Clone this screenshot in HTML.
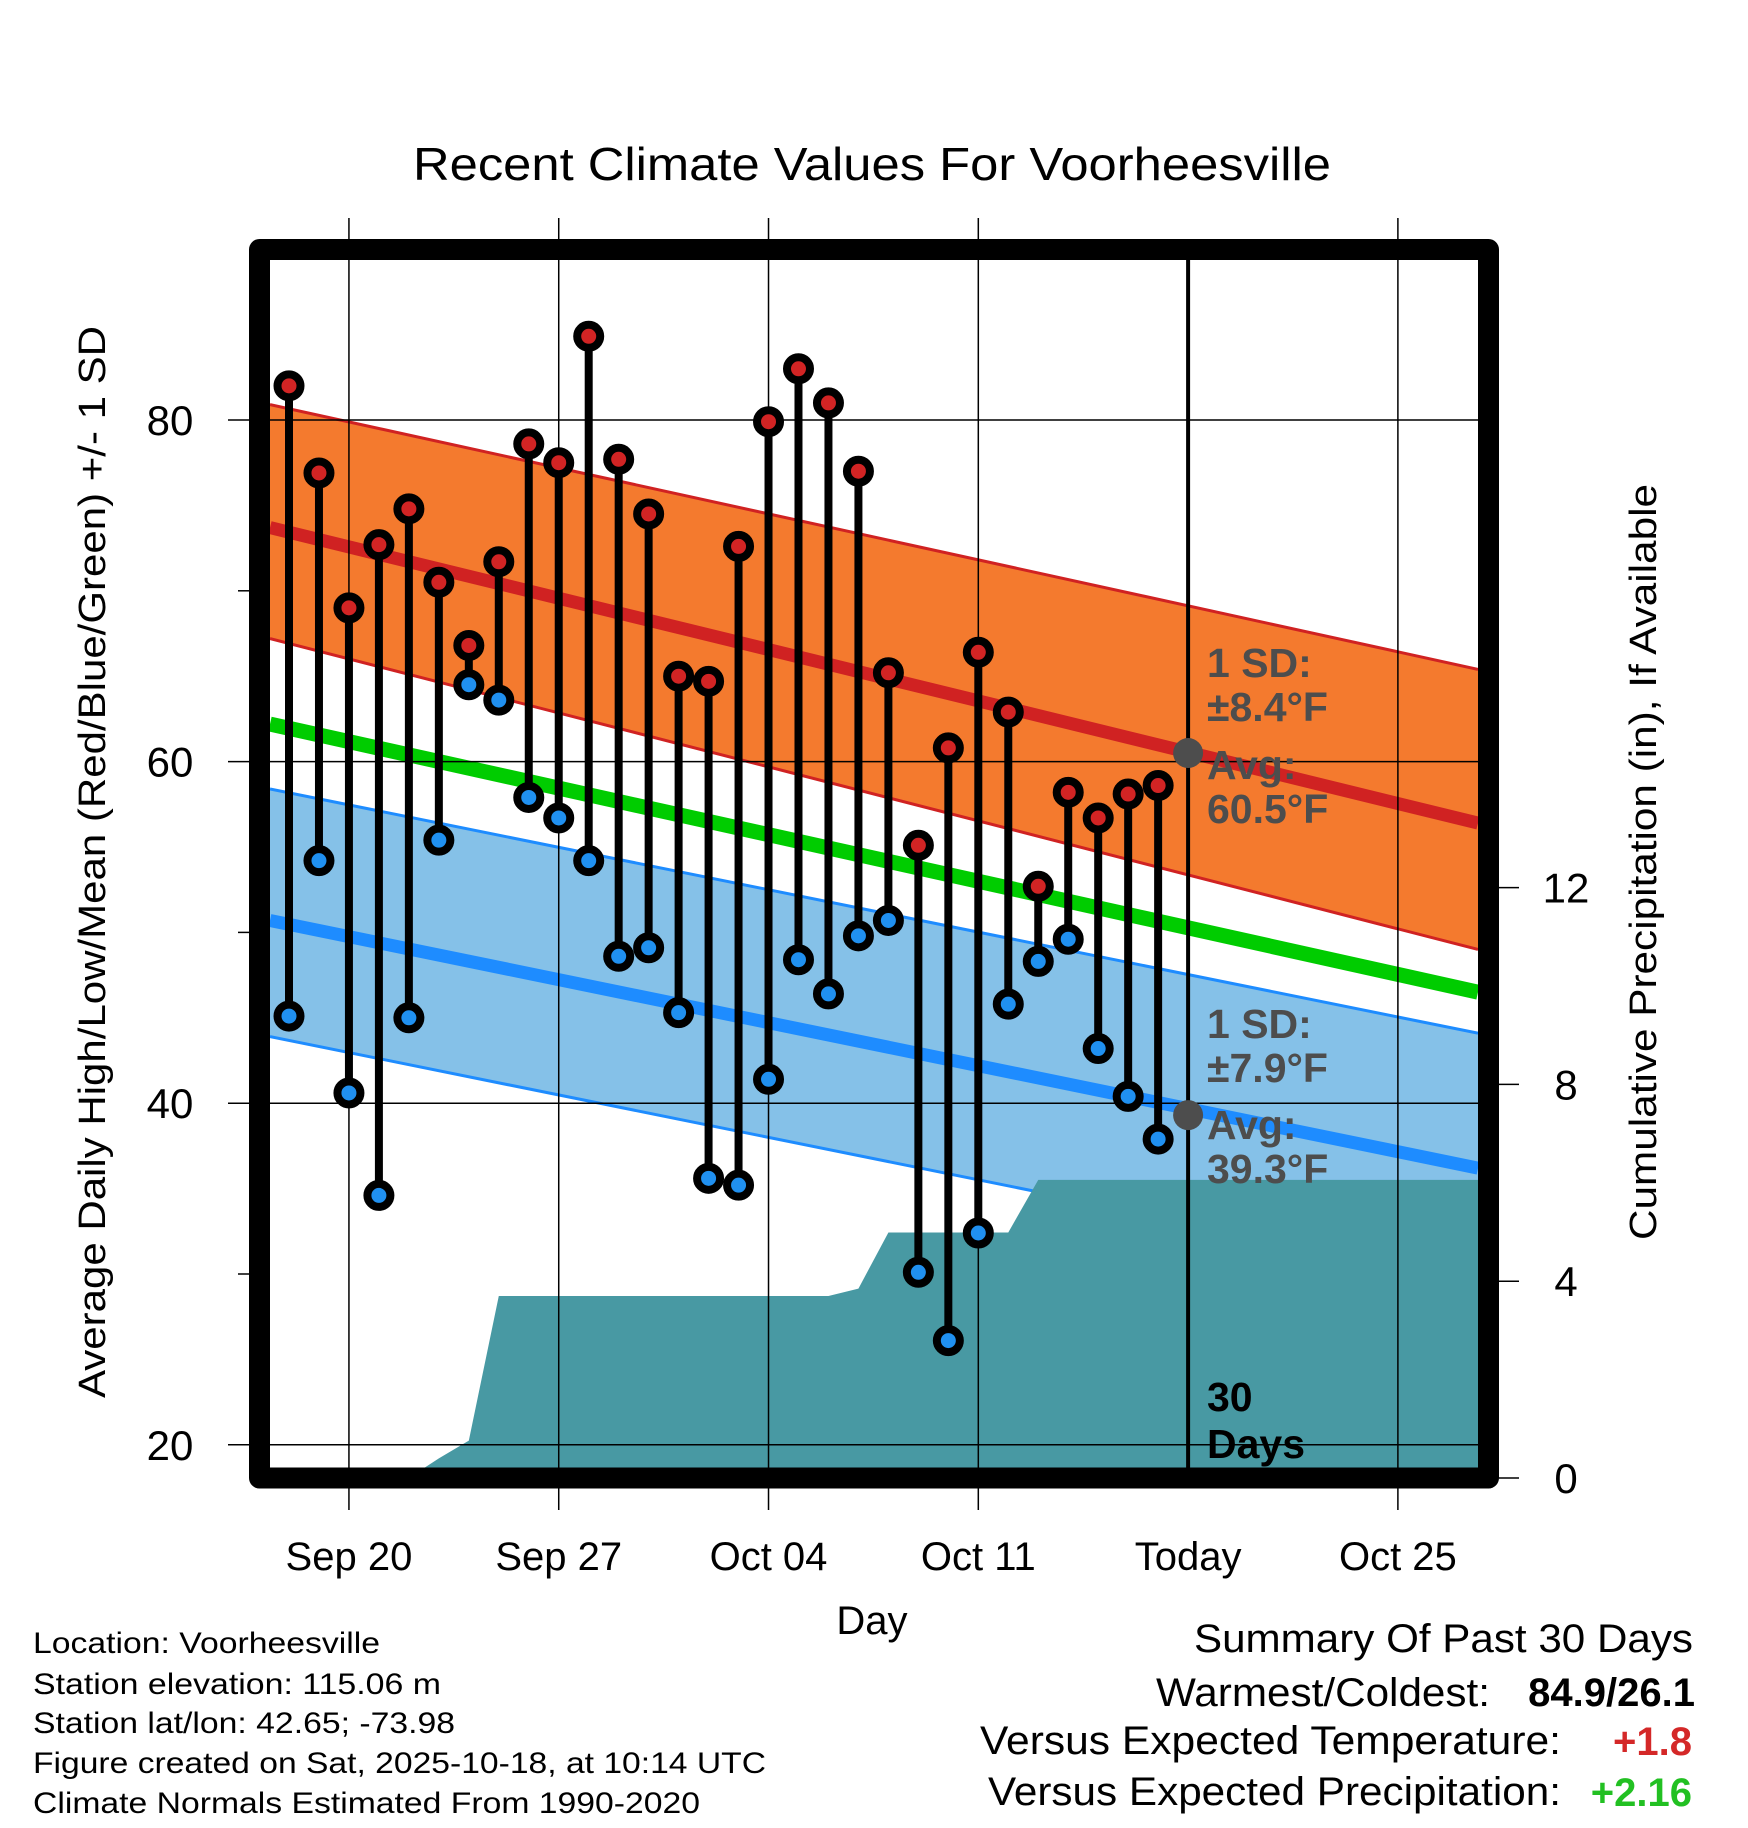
<!DOCTYPE html>
<html><head><meta charset="utf-8"><style>html,body{margin:0;padding:0;background:#fff}svg{display:block}</style></head>
<body>
<svg id="chart" xmlns="http://www.w3.org/2000/svg" width="1748" height="1828" viewBox="0 0 1748 1828" font-family="'Liberation Sans', sans-serif">
<rect width="1748" height="1828" fill="#fff"/>
<g id="plot"></g>
<text x="872" y="180" font-size="46" text-anchor="middle" textLength="918" lengthAdjust="spacingAndGlyphs">Recent Climate Values For Voorheesville</text>
<text transform="translate(105,862) rotate(-90)" font-size="38" text-anchor="middle" textLength="1072" lengthAdjust="spacingAndGlyphs">Average Daily High/Low/Mean (Red/Blue/Green) +/- 1 SD</text>
<text transform="translate(1656,862) rotate(-90)" font-size="38" text-anchor="middle" textLength="756" lengthAdjust="spacingAndGlyphs">Cumulative Precipitation (in), If Available</text>
<text x="872" y="1634" font-size="40" text-anchor="middle">Day</text>
<g font-size="30">
<text x="33" y="1653" textLength="347" lengthAdjust="spacingAndGlyphs">Location: Voorheesville</text>
<text x="33" y="1694" textLength="408" lengthAdjust="spacingAndGlyphs">Station elevation: 115.06 m</text>
<text x="33" y="1733" textLength="422" lengthAdjust="spacingAndGlyphs">Station lat/lon: 42.65; -73.98</text>
<text x="33" y="1773" textLength="733" lengthAdjust="spacingAndGlyphs">Figure created on Sat, 2025-10-18, at 10:14 UTC</text>
<text x="33" y="1813" textLength="667" lengthAdjust="spacingAndGlyphs">Climate Normals Estimated From 1990-2020</text>
</g>
<g font-size="40">
<text x="1693" y="1652" text-anchor="end" textLength="499" lengthAdjust="spacingAndGlyphs">Summary Of Past 30 Days</text>
<text x="1490" y="1706" text-anchor="end" textLength="334" lengthAdjust="spacingAndGlyphs">Warmest/Coldest:</text>
<text x="1695" y="1706" text-anchor="end" font-weight="bold">84.9/26.1</text>
<text x="1561" y="1754" text-anchor="end" textLength="581" lengthAdjust="spacingAndGlyphs">Versus Expected Temperature:</text>
<text x="1692" y="1755" text-anchor="end" font-weight="bold" fill="#d42828">+1.8</text>
<text x="1561" y="1805" text-anchor="end" textLength="573" lengthAdjust="spacingAndGlyphs">Versus Expected Precipitation:</text>
<text x="1692" y="1806" text-anchor="end" font-weight="bold" fill="#22c022">+2.16</text>
</g>
</svg>
<script>
const NS='http://www.w3.org/2000/svg';
const days=['Sep 18','Sep 19','Sep 20','Sep 21','Sep 22','Sep 23','Sep 24','Sep 25','Sep 26','Sep 27','Sep 28','Sep 29','Sep 30','Oct 01','Oct 02','Oct 03','Oct 04','Oct 05','Oct 06','Oct 07','Oct 08','Oct 09','Oct 10','Oct 11','Oct 12','Oct 13','Oct 14','Oct 15','Oct 16','Oct 17'];
const highs=[82.0,76.9,69.0,72.7,74.8,70.5,66.8,71.7,78.6,77.5,84.9,77.7,74.5,65.0,64.7,72.6,79.9,83.0,81.0,77.0,65.2,55.1,60.8,66.4,62.9,52.7,58.2,56.7,58.1,58.6];
const lows=[45.1,54.2,40.6,34.6,45.0,55.4,64.5,63.6,57.9,56.7,54.2,48.6,49.1,45.3,35.6,35.2,41.4,48.4,46.4,49.8,50.7,30.1,26.1,32.4,45.8,48.3,49.6,43.2,40.4,37.9];
const precip=[0,0,0,0,0,0.4,0.76,3.7,3.7,3.7,3.7,3.7,3.7,3.7,3.7,3.7,3.7,3.7,3.7,3.85,4.99,4.99,4.99,4.99,4.99,6.06,6.06,6.06,6.06,6.06];
const xTickLabels=['Sep 20','Sep 27','Oct 04','Oct 11','Today','Oct 25'];
const xTickDays=[2,9,16,23,30,37];
const yTicks=[20,40,60,80];
const yMinorTicks=[30,50,70];
const y2Ticks=[0,4,8,12];
const normHighUpper=[80.9,65.4], normHigh=[73.7,56.4], normHighLower=[67.2,49.0];
const normMean=[62.2,46.5];
const normLowUpper=[58.4,44.1], normLow=[50.7,36.2], normLowLower=[43.9,29.6];
const todayHigh=60.5, todayLow=39.3;

const L=270,R=1478,T=260,B=1468;
const x=d=>289+d*29.97;
const y=v=>420+(80-v)*17.08;
const y2=p=>1478-p*49.2;
const g=document.getElementById('plot');
function el(tag,attrs,parent){const e=document.createElementNS(NS,tag);for(const k in attrs)e.setAttribute(k,attrs[k]);(parent||g).appendChild(e);return e;}
const clip=el('clipPath',{id:'clipInner'});el('rect',{x:L,y:T,width:R-L,height:B-T},clip);
const inner=el('g',{'clip-path':'url(#clipInner)'});
function band(up,lo,fill,edge,name){
  const p=el('polygon',{points:`${L},${y(up[0])} ${R},${y(up[1])} ${R},${y(lo[1])} ${L},${y(lo[0])}`,fill:fill},inner);
  
  
  el('line',{x1:L,y1:y(up[0]),x2:R,y2:y(up[1]),stroke:edge,'stroke-width':3},inner);
  el('line',{x1:L,y1:y(lo[0]),x2:R,y2:y(lo[1]),stroke:edge,'stroke-width':3},inner);
}
band(normHighUpper,normHighLower,'#f47a2e','#d02222','high-sd-band');
band(normLowUpper,normLowLower,'#85c1e8','#1e8cff','low-sd-band');
function nline(v,col,w,name){const l=el('line',{x1:L,y1:y(v[0]),x2:R,y2:y(v[1]),stroke:col,'stroke-width':w},inner);
  
  }
nline(normHigh,'#d02222',13,'normal-high-line');
nline(normMean,'#00cc00',15,'normal-mean-line');
nline(normLow,'#1e8cff',13,'normal-low-line');
let pts=`${x(0)},${B+20} `;
precip.forEach((p,i)=>pts+=`${x(i)},${y2(p)} `);
pts+=`${R+5},${y2(precip[precip.length-1])} ${R+5},${B+20}`;
const pp=el('polygon',{points:pts,fill:'#4899a3'},inner);


xTickDays.forEach((d,i)=>{
  if(i===4)return;
  el('line',{x1:x(d),y1:218,x2:x(d),y2:1510,stroke:'#000','stroke-width':1.5});
});
yTicks.forEach(v=>el('line',{x1:228,y1:y(v),x2:R,y2:y(v),stroke:'#000','stroke-width':1.5}));
yMinorTicks.forEach(v=>el('line',{x1:238,y1:y(v),x2:249,y2:y(v),stroke:'#000','stroke-width':1.5}));
y2Ticks.forEach(p=>el('line',{x1:1499,y1:y2(p),x2:1519,y2:y2(p),stroke:'#000','stroke-width':1.5}));
yTicks.forEach(v=>{const t=el('text',{x:170,y:y(v)+15,'font-size':42,'text-anchor':'middle'});t.textContent=v;
  
  });
y2Ticks.forEach(p=>{const t=el('text',{x:1566,y:y2(p)+15,'font-size':42,'text-anchor':'middle'});t.textContent=p;
  
  });
xTickLabels.forEach((s,i)=>{const t=el('text',{x:x(xTickDays[i]),y:1570,'font-size':40,'text-anchor':'middle'});t.textContent=s;
  
  });
const tl=el('line',{x1:x(30),y1:250,x2:x(30),y2:1480,stroke:'#000','stroke-width':4});


highs.forEach((h,i)=>{
  const s=el('line',{x1:x(i),y1:y(h),x2:x(i),y2:y(lows[i]),stroke:'#000','stroke-width':8});
  
  
  const c1=el('circle',{cx:x(i),cy:y(h),r:11.5,fill:'#d22424',stroke:'#000','stroke-width':8});
  
  
  const c2=el('circle',{cx:x(i),cy:y(lows[i]),r:11.5,fill:'#2090f0',stroke:'#000','stroke-width':8});
  
  
});
[todayHigh,todayLow].forEach(v=>{const c=el('circle',{cx:x(30),cy:y(v),r:15,fill:'#4d4d4d'});
  
  });
function ann(s,yy,col){const t=el('text',{x:1207,y:yy,'font-size':41,'font-weight':'bold',fill:col});t.textContent=s;
  
  }
ann('1 SD:',677,'#4d4d4d');ann('±8.4°F',721,'#4d4d4d');ann('Avg:',779,'#4d4d4d');ann(todayHigh.toFixed(1)+'°F',823,'#4d4d4d');
ann('1 SD:',1038,'#4d4d4d');ann('±7.9°F',1082,'#4d4d4d');ann('Avg:',1139,'#4d4d4d');ann(todayLow.toFixed(1)+'°F',1183,'#4d4d4d');
ann('30',1411,'#000');ann('Days',1458,'#000');
const fr=el('rect',{x:259.5,y:249.5,width:1229,height:1228.5,fill:'none',stroke:'#000','stroke-width':21,'stroke-linejoin':'round'});


</script>
</body></html>
